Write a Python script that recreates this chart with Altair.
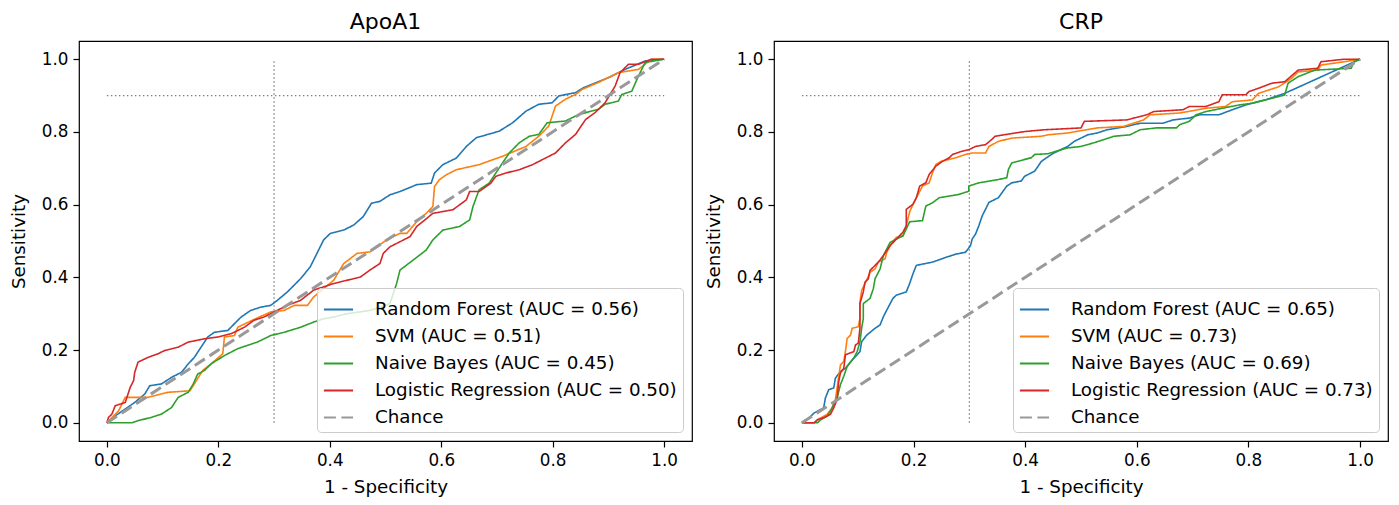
import altair as alt
import pandas as pd

models = ["Random Forest", "SVM", "Naive Bayes", "Logistic Regression"]
model_colors = ["#1f77b4", "#ff7f0e", "#2ca02c", "#d62728"]
chance_color = "#999999"
tick_values = [0.0, 0.2, 0.4, 0.6, 0.8, 1.0]

apoa1_auc = [0.56, 0.51, 0.45, 0.50]
crp_auc = [0.65, 0.73, 0.69, 0.73]

spec_cut = [0.3]
sens_cut = [0.9]

chance = [(0.0, 0.0), (1.0, 1.0)]

# ---- ApoA1 ROC points (fpr, tpr) ----
apoa1_rf = [(0, 0), (0.015, 0.019), (0.033, 0.038), (0.050, 0.056), (0.068, 0.079), (0.077, 0.102),
            (0.098, 0.107), (0.116, 0.125), (0.134, 0.139), (0.146, 0.162), (0.157, 0.180), (0.169, 0.208),
            (0.181, 0.236), (0.193, 0.249), (0.217, 0.254), (0.235, 0.282), (0.241, 0.291), (0.258, 0.309),
            (0.276, 0.318), (0.294, 0.323), (0.306, 0.337), (0.324, 0.360), (0.348, 0.397), (0.365, 0.429),
            (0.377, 0.466), (0.389, 0.503), (0.401, 0.521), (0.425, 0.530), (0.443, 0.544), (0.460, 0.567),
            (0.475, 0.604), (0.490, 0.609), (0.508, 0.627), (0.526, 0.636), (0.556, 0.655), (0.582, 0.659),
            (0.588, 0.687), (0.603, 0.710), (0.627, 0.728), (0.645, 0.760), (0.663, 0.784), (0.704, 0.802),
            (0.728, 0.825), (0.752, 0.857), (0.775, 0.876), (0.799, 0.880), (0.811, 0.899), (0.841, 0.908),
            (0.856, 0.922), (0.900, 0.949), (0.930, 0.972), (0.966, 0.995), (1.0, 1.0)]

apoa1_svm = [(0, 0), (0.021, 0.033), (0.033, 0.070), (0.074, 0.070), (0.110, 0.084), (0.149, 0.088),
             (0.157, 0.107), (0.172, 0.144), (0.187, 0.162), (0.208, 0.190), (0.211, 0.236), (0.229, 0.240),
             (0.235, 0.263), (0.261, 0.282), (0.294, 0.305), (0.318, 0.309), (0.336, 0.323), (0.360, 0.323),
             (0.371, 0.346), (0.407, 0.392), (0.425, 0.438), (0.449, 0.466), (0.472, 0.470), (0.502, 0.503),
             (0.526, 0.521), (0.538, 0.521), (0.556, 0.553), (0.573, 0.576), (0.585, 0.595), (0.588, 0.650),
             (0.597, 0.669), (0.609, 0.682), (0.627, 0.696), (0.668, 0.710), (0.710, 0.733), (0.752, 0.760),
             (0.775, 0.788), (0.793, 0.816), (0.805, 0.871), (0.823, 0.890), (0.841, 0.903), (0.853, 0.917),
             (0.882, 0.936), (0.906, 0.954), (0.918, 0.963), (0.954, 0.972), (0.977, 1.0), (1.0, 1.0)]

apoa1_nb = [(0, 0), (0.045, 0.0), (0.056, 0.006), (0.080, 0.015), (0.098, 0.024), (0.116, 0.042),
            (0.128, 0.070), (0.146, 0.084), (0.155, 0.107), (0.163, 0.134), (0.175, 0.144), (0.187, 0.162),
            (0.211, 0.185), (0.235, 0.204), (0.270, 0.222), (0.294, 0.240), (0.318, 0.249), (0.348, 0.263),
            (0.371, 0.277), (0.389, 0.286), (0.407, 0.291), (0.431, 0.300), (0.472, 0.309), (0.508, 0.328),
            (0.520, 0.383), (0.526, 0.420), (0.550, 0.448), (0.573, 0.475), (0.585, 0.503), (0.603, 0.530),
            (0.633, 0.540), (0.651, 0.558), (0.657, 0.595), (0.668, 0.641), (0.686, 0.659), (0.698, 0.687),
            (0.722, 0.742), (0.740, 0.770), (0.758, 0.788), (0.775, 0.793), (0.790, 0.825), (0.823, 0.830),
            (0.847, 0.848), (0.882, 0.862), (0.894, 0.876), (0.918, 0.885), (0.924, 0.903), (0.942, 0.912),
            (0.954, 0.954), (0.966, 0.991), (1.0, 1.0)]

apoa1_lr = [(0, 0), (0.003, 0.015), (0.009, 0.024), (0.015, 0.047), (0.033, 0.056), (0.036, 0.070),
            (0.042, 0.098), (0.048, 0.116), (0.050, 0.139), (0.056, 0.167), (0.074, 0.180), (0.092, 0.190),
            (0.104, 0.199), (0.128, 0.208), (0.146, 0.222), (0.175, 0.231), (0.199, 0.236), (0.223, 0.245),
            (0.247, 0.263), (0.264, 0.282), (0.282, 0.291), (0.300, 0.305), (0.324, 0.323), (0.348, 0.337),
            (0.371, 0.365), (0.407, 0.383), (0.431, 0.392), (0.455, 0.401), (0.472, 0.420), (0.490, 0.438),
            (0.496, 0.466), (0.508, 0.484), (0.544, 0.512), (0.556, 0.540), (0.585, 0.576), (0.621, 0.586),
            (0.645, 0.613), (0.651, 0.636), (0.668, 0.636), (0.689, 0.659), (0.698, 0.678), (0.716, 0.687),
            (0.740, 0.696), (0.764, 0.710), (0.787, 0.728), (0.805, 0.742), (0.823, 0.770), (0.841, 0.793),
            (0.859, 0.834), (0.876, 0.853), (0.894, 0.880), (0.912, 0.926), (0.921, 0.963), (0.936, 0.986),
            (0.954, 0.986), (0.977, 1.0), (1.0, 1.0)]

# ---- CRP ROC points (fpr, tpr) ----
crp_rf = [(0, 0), (0.013, 0.014), (0.022, 0.027), (0.039, 0.041), (0.042, 0.068), (0.048, 0.091),
          (0.057, 0.096), (0.060, 0.123), (0.069, 0.141), (0.078, 0.150), (0.090, 0.173), (0.099, 0.187),
          (0.104, 0.196), (0.107, 0.223), (0.116, 0.241), (0.131, 0.260), (0.140, 0.269), (0.146, 0.292),
          (0.152, 0.310), (0.163, 0.342), (0.169, 0.351), (0.187, 0.360), (0.193, 0.383), (0.199, 0.410),
          (0.205, 0.433), (0.234, 0.442), (0.258, 0.455), (0.276, 0.464), (0.293, 0.469), (0.302, 0.487),
          (0.305, 0.505), (0.311, 0.519), (0.317, 0.542), (0.323, 0.569), (0.335, 0.606), (0.352, 0.619),
          (0.367, 0.651), (0.376, 0.660), (0.393, 0.665), (0.399, 0.678), (0.417, 0.692), (0.429, 0.719),
          (0.447, 0.738), (0.458, 0.747), (0.476, 0.760), (0.488, 0.774), (0.512, 0.792), (0.529, 0.797),
          (0.547, 0.806), (0.582, 0.815), (0.606, 0.824), (0.647, 0.824), (0.665, 0.833), (0.694, 0.838),
          (0.712, 0.847), (0.747, 0.847), (0.771, 0.861), (0.795, 0.874), (0.830, 0.888), (0.865, 0.906),
          (1.0, 1.0)]

crp_svm = [(0, 0), (0.022, 0.0), (0.034, 0.014), (0.045, 0.023), (0.054, 0.041), (0.060, 0.064),
           (0.069, 0.159), (0.075, 0.169), (0.078, 0.196), (0.081, 0.232), (0.087, 0.241), (0.090, 0.260),
           (0.101, 0.264), (0.104, 0.287), (0.104, 0.332), (0.107, 0.364), (0.116, 0.392), (0.122, 0.414),
           (0.131, 0.423), (0.137, 0.442), (0.149, 0.451), (0.152, 0.469), (0.158, 0.487), (0.169, 0.510),
           (0.181, 0.514), (0.187, 0.542), (0.193, 0.580), (0.199, 0.601), (0.216, 0.651), (0.228, 0.660),
           (0.234, 0.688), (0.240, 0.710), (0.249, 0.719), (0.276, 0.729), (0.293, 0.738), (0.305, 0.742),
           (0.329, 0.742), (0.335, 0.760), (0.352, 0.774), (0.376, 0.783), (0.429, 0.788), (0.441, 0.792),
           (0.476, 0.797), (0.529, 0.811), (0.576, 0.815), (0.594, 0.824), (0.612, 0.833), (0.624, 0.847),
           (0.677, 0.852), (0.724, 0.865), (0.759, 0.870), (0.771, 0.883), (0.807, 0.888), (0.818, 0.906),
           (0.854, 0.924), (0.877, 0.947), (0.889, 0.965), (0.924, 0.970), (0.930, 0.984), (0.972, 0.993),
           (1.0, 1.0)]

crp_nb = [(0, 0), (0.028, 0.0), (0.034, 0.009), (0.045, 0.018), (0.051, 0.032), (0.057, 0.050),
          (0.063, 0.068), (0.069, 0.105), (0.075, 0.128), (0.081, 0.155), (0.093, 0.178), (0.099, 0.196),
          (0.104, 0.223), (0.107, 0.260), (0.110, 0.287), (0.110, 0.328), (0.122, 0.342), (0.128, 0.369),
          (0.131, 0.396), (0.140, 0.423), (0.146, 0.460), (0.158, 0.496), (0.169, 0.505), (0.181, 0.514),
          (0.187, 0.533), (0.193, 0.553), (0.216, 0.556), (0.222, 0.596), (0.234, 0.605), (0.246, 0.619),
          (0.281, 0.628), (0.299, 0.637), (0.299, 0.651), (0.317, 0.660), (0.352, 0.669), (0.367, 0.674),
          (0.370, 0.697), (0.376, 0.715), (0.411, 0.729), (0.417, 0.738), (0.441, 0.740), (0.458, 0.748),
          (0.476, 0.756), (0.500, 0.760), (0.523, 0.770), (0.541, 0.779), (0.559, 0.788), (0.588, 0.792),
          (0.606, 0.806), (0.635, 0.811), (0.671, 0.811), (0.677, 0.820), (0.694, 0.829), (0.706, 0.847),
          (0.724, 0.856), (0.753, 0.865), (0.783, 0.874), (0.807, 0.879), (0.830, 0.888), (0.854, 0.897),
          (0.865, 0.902), (0.871, 0.934), (0.889, 0.952), (0.919, 0.970), (0.984, 0.975), (0.989, 0.993),
          (1.0, 1.0)]

crp_lr = [(0, 0), (0.022, 0.0), (0.028, 0.009), (0.039, 0.014), (0.051, 0.023), (0.057, 0.041),
          (0.063, 0.064), (0.066, 0.114), (0.069, 0.137), (0.075, 0.150), (0.078, 0.187), (0.093, 0.196),
          (0.096, 0.214), (0.101, 0.219), (0.104, 0.260), (0.104, 0.328), (0.110, 0.360), (0.113, 0.387),
          (0.119, 0.396), (0.122, 0.419), (0.137, 0.442), (0.146, 0.460), (0.158, 0.487), (0.172, 0.510),
          (0.181, 0.524), (0.187, 0.542), (0.187, 0.587), (0.199, 0.601), (0.205, 0.619), (0.211, 0.651),
          (0.222, 0.660), (0.228, 0.683), (0.240, 0.706), (0.252, 0.719), (0.264, 0.729), (0.270, 0.738),
          (0.287, 0.747), (0.299, 0.751), (0.311, 0.760), (0.329, 0.765), (0.340, 0.779), (0.346, 0.788),
          (0.382, 0.797), (0.399, 0.801), (0.435, 0.806), (0.500, 0.811), (0.506, 0.829), (0.582, 0.833),
          (0.594, 0.838), (0.618, 0.847), (0.630, 0.856), (0.683, 0.861), (0.694, 0.870), (0.724, 0.870),
          (0.747, 0.883), (0.753, 0.902), (0.795, 0.902), (0.801, 0.911), (0.818, 0.920), (0.842, 0.934),
          (0.865, 0.938), (0.889, 0.970), (0.924, 0.975), (0.930, 0.993), (0.972, 1.0), (1.0, 1.0)]

FONT = "DejaVu Sans"


def panel(title, curves, aucs, width, height):
    labels = [f"{m} (AUC = {a:.2f})" for m, a in zip(models, aucs)] + ["Chance"]
    rows = []
    for lab, pts in zip(labels[:4], curves):
        for i, (f, t) in enumerate(pts):
            rows.append({"fpr": f, "tpr": t, "series": lab, "idx": i})
    df = pd.DataFrame(rows)
    cdf = pd.DataFrame({"fpr": [p[0] for p in chance], "tpr": [p[1] for p in chance],
                        "series": ["Chance"] * len(chance), "idx": list(range(len(chance)))})

    xs = alt.Scale(domain=[-0.05, 1.05], nice=False, zero=False)
    ys = alt.Scale(domain=[-0.05, 1.05], nice=False, zero=False)
    xaxis = alt.Axis(values=tick_values, format=".1f", title="1 - Specificity")
    yaxis = alt.Axis(values=tick_values, format=".1f", title="Sensitivity")

    color = alt.Color("series:N", scale=alt.Scale(domain=labels, range=model_colors + [chance_color]),
                      legend=alt.Legend(title=None))
    dash = alt.StrokeDash("series:N", scale=alt.Scale(domain=labels, range=[[1, 0]] * 4 + [[12, 5.5]]),
                          legend=alt.Legend(title=None))

    vdf = pd.DataFrame({"x": spec_cut, "y0": [0.0], "y1": [1.0]})
    hdf = pd.DataFrame({"y": sens_cut, "x0": [0.0], "x1": [1.0]})

    vrule = alt.Chart(vdf).mark_rule(color="#808080", strokeDash=[1.5, 2.5], strokeWidth=1.3).encode(
        x=alt.X("x:Q", scale=xs, axis=xaxis),
        y=alt.Y("y0:Q", scale=ys, axis=yaxis),
        y2="y1:Q",
    )
    hrule = alt.Chart(hdf).mark_rule(color="#808080", strokeDash=[1.5, 2.5], strokeWidth=1.3).encode(
        y=alt.Y("y:Q", scale=ys, axis=yaxis),
        x=alt.X("x0:Q", scale=xs, axis=xaxis),
        x2="x1:Q",
    )

    lines = alt.Chart(df).mark_line(strokeWidth=1.6).encode(
        x=alt.X("fpr:Q", scale=xs, axis=xaxis),
        y=alt.Y("tpr:Q", scale=ys, axis=yaxis),
        color=color, strokeDash=dash,
        order=alt.Order("idx:Q"),
    )
    chance_line = alt.Chart(cdf).mark_line(strokeWidth=3).encode(
        x=alt.X("fpr:Q", scale=xs, axis=xaxis),
        y=alt.Y("tpr:Q", scale=ys, axis=yaxis),
        color=color, strokeDash=dash,
        order=alt.Order("idx:Q"),
    )

    return alt.layer(vrule, hrule, lines, chance_line).properties(
        width=width, height=height,
        title=alt.TitleParams(title, fontSize=22, fontWeight="normal", color="black", font=FONT, offset=7),
    )


left = panel("ApoA1", [apoa1_rf, apoa1_svm, apoa1_nb, apoa1_lr], apoa1_auc, 613, 400)
right = panel("CRP", [crp_rf, crp_svm, crp_nb, crp_lr], crp_auc, 614, 400)

chart = alt.hconcat(left, right, spacing=10).resolve_scale(
    color="independent", strokeDash="independent"
).properties(
    padding={"left": 0, "top": 2, "right": 0, "bottom": 0}
).configure(
    font=FONT
).configure_view(
    stroke="black", strokeWidth=1.2
).configure_axis(
    grid=False, domain=False, tickColor="black", tickSize=6, tickWidth=1.2,
    labelColor="black", labelFontSize=16.8, labelFont=FONT, labelPadding=5,
    titleFont=FONT, titleFontSize=18.3, titleFontWeight="normal", titleColor="black",
).configure_axisY(
    titlePadding=13
).configure_axisX(
    titlePadding=10
).configure_legend(
    orient="bottom-right", offset=9, fillColor="rgba(255,255,255,0.8)", strokeColor="#cccccc",
    cornerRadius=4, padding=6, labelFontSize=18.3, labelFont=FONT, labelColor="black",
    labelLimit=500, symbolType="stroke", symbolSize=850, symbolStrokeWidth=1.8,
    rowPadding=3, labelOffset=21,
)

chart.save("out.html", embed_options={"renderer": "svg", "actions": False})
